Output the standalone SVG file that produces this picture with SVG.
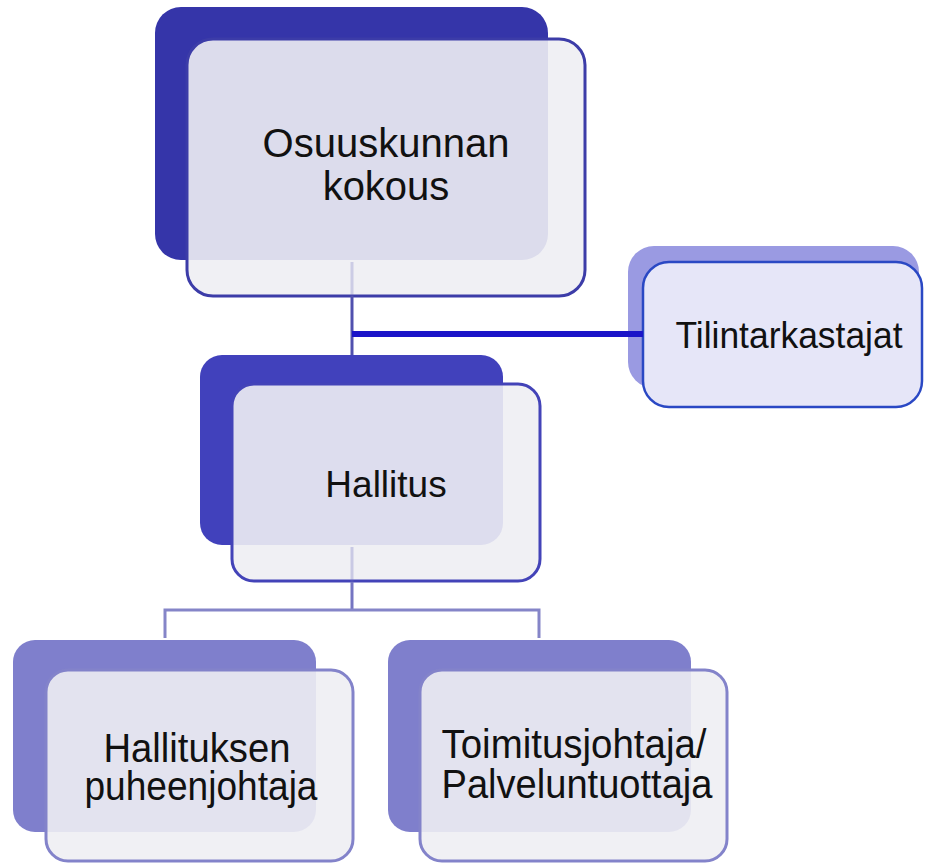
<svg xmlns="http://www.w3.org/2000/svg" width="925" height="863" viewBox="0 0 925 863">
<style>
.front{fill:#EEEEF3;fill-opacity:0.9;stroke-width:3}
.lbl{font-family:"Liberation Sans",Arial,sans-serif;fill:#111;text-anchor:middle}
.conn{fill:none;stroke-width:3}
</style>
<rect width="925" height="863" fill="#FFFFFF"/>
<g id="node-osuuskunnan-kokous">
<rect x="155" y="7" width="393" height="253" rx="26" fill="#3535A9"/>
<rect class="front" x="187" y="39" width="398" height="257" rx="26" stroke="#3C3CA8"/>
<text class="lbl" font-size="40"><tspan x="386" y="157">Osuuskunnan</tspan><tspan x="386" y="200">kokous</tspan></text>
</g>
<g id="node-tilintarkastajat">
<rect x="628" y="246" width="291" height="142" rx="26" fill="#9A9AE2"/>
<rect x="643" y="262" width="279" height="145" rx="26" fill="#E6E6F8" stroke="#2A48C4" stroke-width="2.5"/>
<text class="lbl" font-size="36" x="789" y="348" textLength="227" lengthAdjust="spacingAndGlyphs">Tilintarkastajat</text>
</g>
<g id="node-hallitus">
<rect x="200" y="355" width="303" height="190" rx="22" fill="#4141BC"/>
<rect class="front" x="232" y="384" width="308" height="197" rx="22" stroke="#4343B8"/>
<text class="lbl" font-size="37" x="386" y="497">Hallitus</text>
</g>
<g id="node-hallituksen-puheenjohtaja">
<rect x="13" y="640" width="303" height="192" rx="22" fill="#7F7FCC"/>
<rect class="front" x="46" y="670" width="307" height="191" rx="22" stroke="#8383CA"/>
<text class="lbl" font-size="41"><tspan x="197" y="762" textLength="187" lengthAdjust="spacingAndGlyphs">Hallituksen</tspan><tspan x="201" y="800" textLength="233" lengthAdjust="spacingAndGlyphs">puheenjohtaja</tspan></text>
</g>
<g id="node-toimitusjohtaja">
<rect x="388" y="640" width="303" height="192" rx="22" fill="#7F7FCC"/>
<rect class="front" x="420" y="670" width="307" height="191" rx="22" stroke="#8383CA"/>
<text class="lbl" font-size="41"><tspan x="574" y="758" textLength="265" lengthAdjust="spacingAndGlyphs">Toimitusjohtaja/</tspan><tspan x="577" y="798" textLength="271" lengthAdjust="spacingAndGlyphs">Palveluntuottaja</tspan></text>
</g>
<g id="connectors">
<line class="conn" x1="352" y1="262" x2="352" y2="296" stroke="#6060B8" stroke-opacity="0.25"/>
<line class="conn" x1="352" y1="296" x2="352" y2="355" stroke="#5050AE"/>
<line x1="352" y1="334" x2="643" y2="334" stroke="#1A14C8" stroke-width="6"/>
<line class="conn" x1="352" y1="547" x2="352" y2="582" stroke="#7070C0" stroke-opacity="0.3"/>
<polyline class="conn" points="352,582 352,610" stroke="#7575C2"/>
<polyline class="conn" points="165,638 165,610 539,610 539,638" stroke="#8585C8"/>
</g>
</svg>
